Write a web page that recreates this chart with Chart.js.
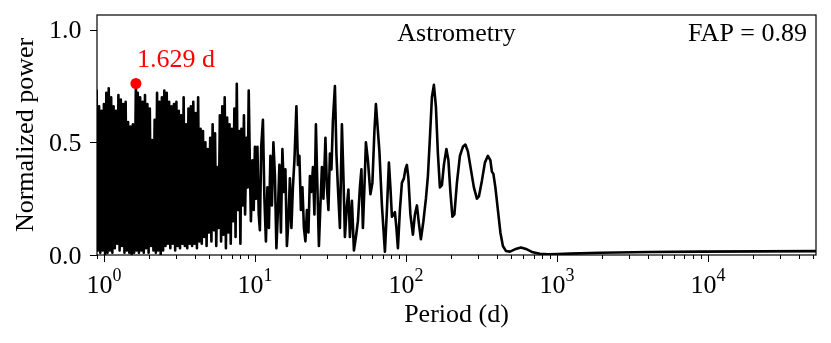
<!DOCTYPE html>
<html>
<head>
<meta charset="utf-8">
<title>Astrometry periodogram</title>
<script src="https://cdn.jsdelivr.net/npm/chart.js@4.4.1/dist/chart.umd.min.js"></script>
<style>
  html, body { margin: 0; padding: 0; background: #fff; }
  #chart { display: block; }
</style>
</head>
<body>
<canvas id="chart" width="831" height="343"></canvas>
<script>
// --- data ---
// short periods: the dense forest, peaks and troughs in turn
const shortPeriods = [
  0.8954, 0.9120, 0.9290, 0.9462, 0.9638, 0.9817, 1.000, 1.0186, 1.0375, 1.0568,
  1.0765, 1.0965, 1.1169, 1.1376, 1.1588, 1.1803, 1.2023, 1.2246, 1.2474, 1.2706,
  1.2942, 1.3183, 1.3428, 1.3677, 1.3932, 1.4191, 1.4454, 1.4723, 1.4997, 1.5276,
  1.5560, 1.5849, 1.629, 1.6444, 1.6749, 1.7061, 1.7378, 1.7701, 1.8030, 1.8365,
  1.8707, 1.9055, 1.9409, 1.9770, 2.0137, 2.0512, 2.0893, 2.1281, 2.1677, 2.2080,
  2.2491, 2.2909, 2.3335, 2.3768, 2.4210, 2.4660, 2.5119, 2.5586, 2.6062, 2.6546,
  2.7040, 2.7542, 2.8054, 2.8576, 2.9107, 2.9648, 3.0200, 3.0761, 3.1333, 3.1915,
  3.2509, 3.3113, 3.3729, 3.4356, 3.4995, 3.5645, 3.6308, 3.6983, 3.7670, 3.8371,
  3.9084, 3.9811, 4.0551, 4.1305, 4.2073, 4.2855, 4.3652, 4.4463, 4.5290, 4.6132,
  4.6989, 4.7863, 4.8753, 4.9659, 5.0582, 5.1523, 5.2481, 5.3456, 5.4450, 5.5463,
  5.6494, 5.7544, 5.8614, 5.9704, 6.0814, 6.1944, 6.3096, 6.4269, 6.5464, 6.6681,
  6.7920, 6.9183, 7.0469, 7.1779, 7.3114, 7.4473, 7.5858, 7.7268, 7.8705, 8.0168
];
const shortPower = [
  0.73, 0.02, 0.66, 0.01, 0.64, 0.02, 0.67, 0.00, 0.72, 0.01,
  0.74, 0.02, 0.70, 0.01, 0.66, 0.03, 0.64, 0.05, 0.71, 0.02,
  0.69, 0.04, 0.67, 0.01, 0.68, 0.02, 0.59, 0.01, 0.57, 0.00,
  0.58, 0.01, 0.761, 0.02, 0.72, 0.01, 0.70, 0.02, 0.68, 0.01,
  0.71, 0.03, 0.67, 0.01, 0.65, 0.04, 0.51, 0.02, 0.60, 0.01,
  0.72, 0.02, 0.68, 0.00, 0.70, 0.02, 0.73, 0.04, 0.72, 0.05,
  0.68, 0.03, 0.66, 0.05, 0.67, 0.02, 0.68, 0.04, 0.64, 0.03,
  0.62, 0.05, 0.70, 0.04, 0.58, 0.03, 0.65, 0.05, 0.66, 0.04,
  0.68, 0.05, 0.63, 0.03, 0.70, 0.06, 0.56, 0.05, 0.55, 0.08,
  0.50, 0.04, 0.47, 0.10, 0.52, 0.06, 0.58, 0.11, 0.54, 0.04,
  0.39, 0.12, 0.62, 0.06, 0.66, 0.09, 0.70, 0.03, 0.61, 0.10,
  0.58, 0.05, 0.56, 0.15, 0.65, 0.08, 0.76, 0.20, 0.55, 0.05
];

// longer periods: single peaks can be told apart here
const longPeriods = [
  8.14, 8.30, 8.46, 8.61, 8.78, 8.96, 9.10, 9.27, 9.41, 9.63, 9.82, 10.0, 10.18, 10.39, 10.60,
  10.79, 11.01, 11.30, 11.56, 11.83, 12.10, 12.38, 12.67, 12.96, 13.26, 13.57, 13.88, 14.21, 14.53,
  14.87, 15.21, 15.56, 15.92, 16.29, 16.67, 17.05, 17.45, 17.85, 18.27, 18.83, 19.27, 19.71,
  20.17, 20.64, 21.12, 21.60, 22.11, 22.62, 23.14, 23.68, 24.23, 24.78, 25.35, 25.94, 26.54,
  27.15, 27.78, 28.43, 29.31, 29.99, 30.69, 31.39, 32.12, 32.87, 33.88, 34.66, 35.46,
  36.56, 37.69, 38.56, 39.45, 40.68, 41.62, 42.58, 43.90, 45.26, 46.66, 48.10,
  49.59, 50.74, 51.91, 53.12, 54.35, 56.03, 58.21, 60.01, 61.87, 63.30, 64.77, 66.77, 69.37,
  72.61, 74.86, 77.17, 78.96, 80.79, 82.66, 84.57, 86.53, 88.53, 91.27,
  94.08, 97.0, 99.2, 101.5, 103.9, 107.1, 111.3, 114.7, 118.3, 121.9, 125.7, 130.6,
  135.7, 139.9, 144.2, 148.7, 153.2, 158.0, 162.9, 168.0, 173.2, 178.5, 185.4,
  191.2, 197.1, 203.2, 209.5, 217.7, 227.9, 238.5, 247.7, 257.4, 269.4,
  282.0, 295.3, 304.4, 318.7, 333.6, 349.2, 362.8, 371.1, 379.7, 391.4,
  406.6, 422.4, 438.9, 459.5, 488.5, 527.1, 577.7, 632.9, 693.6, 771.8, 871.8,
  1015, 1219, 1927, 4129, 8851, 22100, 51900
];
const longPower = [
  0.56, 0.22, 0.62, 0.18, 0.52, 0.30, 0.73, 0.38, 0.15, 0.42, 0.20, 0.48, 0.25, 0.48, 0.18,
  0.11, 0.48, 0.60, 0.25, 0.06, 0.30, 0.12, 0.44, 0.22, 0.50, 0.35, 0.03, 0.20, 0.40,
  0.10, 0.47, 0.28, 0.38, 0.04, 0.15, 0.34, 0.12, 0.30, 0.42, 0.66, 0.40, 0.44,
  0.20, 0.30, 0.12, 0.06, 0.20, 0.10, 0.35, 0.28, 0.39, 0.18, 0.58, 0.30, 0.04,
  0.22, 0.39, 0.25, 0.52, 0.30, 0.20, 0.45, 0.38, 0.60, 0.75, 0.45, 0.30,
  0.12, 0.58, 0.35, 0.08, 0.22, 0.29, 0.08, 0.24, 0.02, 0.08, 0.15,
  0.30, 0.38, 0.12, 0.30, 0.50, 0.42, 0.27, 0.32, 0.55, 0.67, 0.58, 0.46, 0.22,
  0.015, 0.20, 0.41, 0.30, 0.17, 0.18, 0.19, 0.12, 0.03, 0.20,
  0.32, 0.34, 0.38, 0.40, 0.34, 0.18, 0.09, 0.18, 0.22, 0.14, 0.07, 0.15,
  0.25, 0.35, 0.52, 0.70, 0.755, 0.66, 0.45, 0.30, 0.31, 0.40, 0.47,
  0.42, 0.28, 0.17, 0.18, 0.32, 0.44, 0.48, 0.49, 0.46, 0.38,
  0.30, 0.25, 0.26, 0.33, 0.41, 0.44, 0.42, 0.37, 0.36, 0.30,
  0.20, 0.10, 0.04, 0.018, 0.015, 0.025, 0.033, 0.025, 0.012, 0.005, 0.003,
  0.004, 0.006, 0.010, 0.013, 0.015, 0.016, 0.017
];

// best peak
const peakPeriod = 1.629;
const peakPower = 0.761;
const peakLabel = '1.629 d';

// axis ticks and texts
const xMajorTicks = [1, 10, 100, 1000, 10000];
const xMajorExponents = ['0', '1', '2', '3', '4'];
const yTicks = [0, 0.5, 1.0];
const yTickLabels = ['0.0', '0.5', '1.0'];
const panelTitle = 'Astrometry';
const fapText = 'FAP = 0.89';

const FONT = '"Liberation Serif", "Times New Roman", serif';

// 축, 눈금, 글자를 직접 그리는 플러그인
const framePlugin = {
    id: 'frame',
    afterDraw(chart) {
        const ctx = chart.ctx;
        const area = chart.chartArea;
        const xs = chart.scales.x;
        const ys = chart.scales.y;

        ctx.save();
        ctx.strokeStyle = '#000';
        ctx.fillStyle = '#000';

        // box
        ctx.lineWidth = 1.2;
        ctx.strokeRect(area.left, area.top, area.right - area.left, area.bottom - area.top);

        // x minor ticks (2..9 each decade)
        ctx.lineWidth = 1;
        ctx.beginPath();
        for (let dec = 0.1; dec <= 10000; dec *= 10) {
            for (let m = 2; m <= 9; m++) {
                const v = dec * m;
                if (v < xs.min || v > xs.max) continue;
                const px = Math.round(xs.getPixelForValue(v)) + 0.5;
                ctx.moveTo(px, area.bottom);
                ctx.lineTo(px, area.bottom + 4);
            }
        }
        ctx.stroke();

        // x major ticks and labels 10^n
        ctx.beginPath();
        xMajorTicks.forEach(v => {
            const px = Math.round(xs.getPixelForValue(v)) + 0.5;
            ctx.moveTo(px, area.bottom);
            ctx.lineTo(px, area.bottom + 7);
        });
        ctx.stroke();

        xMajorTicks.forEach((v, i) => {
            const px = xs.getPixelForValue(v);
            ctx.font = '26px ' + FONT;
            const baseW = ctx.measureText('10').width;
            ctx.font = '18px ' + FONT;
            const expW = ctx.measureText(xMajorExponents[i]).width;
            const start = px - (baseW + expW) / 2;
            ctx.textAlign = 'left';
            ctx.textBaseline = 'alphabetic';
            ctx.font = '26px ' + FONT;
            ctx.fillText('10', start, 293);
            ctx.font = '18px ' + FONT;
            ctx.fillText(xMajorExponents[i], start + baseW, 281);
        });

        // y ticks and labels
        ctx.beginPath();
        yTicks.forEach(v => {
            const py = Math.round(ys.getPixelForValue(v)) + 0.5;
            ctx.moveTo(area.left, py);
            ctx.lineTo(area.left - 7, py);
        });
        ctx.stroke();

        ctx.font = '26px ' + FONT;
        ctx.textAlign = 'right';
        ctx.textBaseline = 'alphabetic';
        yTicks.forEach((v, i) => {
            const py = ys.getPixelForValue(v);
            ctx.fillText(yTickLabels[i], 81.5, py + 8.5);
        });

        // axis titles
        ctx.textAlign = 'center';
        ctx.fillText('Period (d)', (area.left + area.right) / 2, 322);

        ctx.save();
        ctx.translate(33, (area.top + area.bottom) / 2);
        ctx.rotate(-Math.PI / 2);
        ctx.fillText('Normalized power', 0, 0);
        ctx.restore();

        // panel texts
        ctx.fillText(panelTitle, (area.left + area.right) / 2, 41);
        ctx.textAlign = 'right';
        ctx.fillText(fapText, 807, 41);

        // label next to the best peak
        ctx.fillStyle = '#ff0000';
        ctx.textAlign = 'left';
        const lx = xs.getPixelForValue(peakPeriod);
        const ly = ys.getPixelForValue(peakPower);
        ctx.fillText(peakLabel, lx + 1, ly - 17);

        ctx.restore();
    }
};

document.addEventListener('DOMContentLoaded', function() {
    const points = [];
    shortPeriods.forEach((p, i) => points.push({ x: p, y: shortPower[i] }));
    longPeriods.forEach((p, i) => points.push({ x: p, y: longPower[i] }));

    const ctx = document.getElementById('chart').getContext('2d');
    new Chart(ctx, {
        type: 'line',
        data: {
            datasets: [
                {
                    // red marker on the highest peak
                    data: [{ x: peakPeriod, y: peakPower }],
                    showLine: false,
                    pointRadius: 5.5,
                    pointBackgroundColor: '#ff0000',
                    pointBorderWidth: 0,
                    pointBorderColor: '#ff0000'
                },
                {
                    data: points,
                    borderColor: '#000',
                    borderWidth: 2.6,
                    borderJoinStyle: 'round',
                    borderCapStyle: 'round',
                    pointRadius: 0,
                    tension: 0,
                    fill: false
                }
            ]
        },
        options: {
            responsive: false,
            animation: false,
            events: [],
            layout: { padding: { top: 15, right: 15, left: 0, bottom: 0 } },
            plugins: {
                legend: { display: false },
                tooltip: { enabled: false }
            },
            scales: {
                x: {
                    type: 'logarithmic',
                    min: 0.9,
                    max: 52000,
                    grid: { display: false },
                    border: { display: false },
                    ticks: { display: false },
                    afterFit: s => { s.height = 88; }
                },
                y: {
                    min: 0,
                    max: 1.065,
                    grid: { display: false },
                    border: { display: false },
                    ticks: { display: false },
                    afterFit: s => { s.width = 97; }
                }
            }
        },
        plugins: [framePlugin]
    });
});
</script>
</body>
</html>
